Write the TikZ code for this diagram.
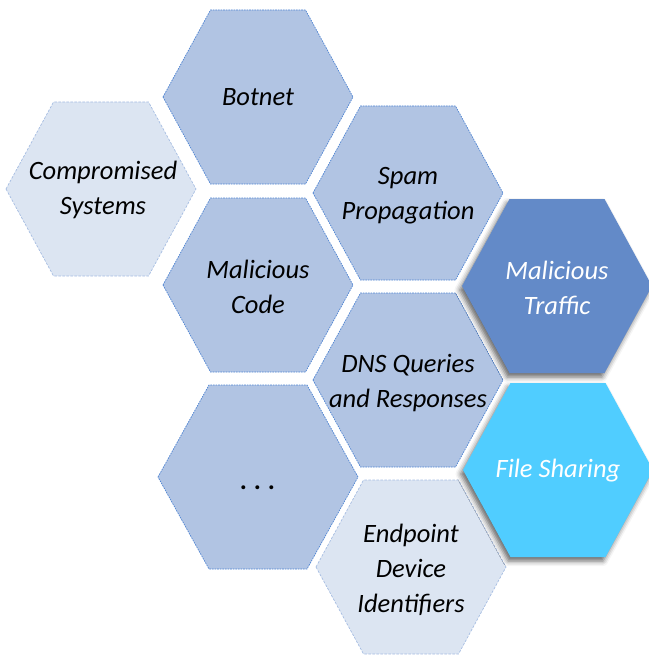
\documentclass[tikz,border=0pt]{standalone}
\usepackage{fontspec}
\setmainfont{Carlito}
\usetikzlibrary{shadows.blur}

\definecolor{midfill}{HTML}{B1C4E3}
\definecolor{midline}{HTML}{4F84D2}
\definecolor{lightfill}{HTML}{DCE5F2}
\definecolor{lightline}{HTML}{A6BDE2}
\definecolor{trafficfill}{HTML}{638AC8}
\definecolor{sharefill}{HTML}{50CDFF}

\tikzset{
  hexshape/.pic={\path[pic actions] (-95,0) -- (-47.5,-87) -- (47.5,-87) -- (95,0) -- (47.5,87) -- (-47.5,87) -- cycle;},
  bighexshape/.pic={\path[pic actions] (-100,0) -- (-49,-92) -- (49,-92) -- (100,0) -- (49,92) -- (-49,92) -- cycle;},
  midhex/.style={fill=midfill, draw=midline, line width=0.7pt, dash pattern=on 1.6pt off 1pt},
  lighthex/.style={fill=lightfill, draw=lightline, line width=0.7pt, dash pattern=on 2.5pt off 1.5pt},
  darkhex/.style={blur shadow={shadow xshift=-2.5pt, shadow yshift=-4pt, shadow blur radius=5pt, shadow opacity=60}},
  hextext/.style={font=\itshape\fontsize{26.5}{35}\selectfont, align=center, text=black, inner sep=0pt},
}

\begin{document}
\begin{tikzpicture}[x=1pt, y=-1pt]
  \useasboundingbox (0,0) rectangle (648,655);

  % light honeycomb cells
  \pic[lighthex] at (101,189) {hexshape};
  \pic[lighthex] at (411,567) {hexshape};

  % medium honeycomb cells
  \pic[midhex] at (258,97) {hexshape};
  \pic[midhex] at (408,193) {hexshape};
  \pic[midhex] at (258,285) {hexshape};
  \pic[midhex] at (408,380) {hexshape};
  \pic[midhex] at (258,477) {bighexshape};

  % highlighted cells with shadows
  \path[darkhex, fill=trafficfill, shift={(557,286)}]
    (-95,0) -- (-47.5,-87) -- (47.5,-87) -- (95,0) -- (47.5,87) -- (-47.5,87) -- cycle;
  \path[darkhex, fill=sharefill, shift={(558,470)}]
    (-95,0) -- (-47.5,-87) -- (47.5,-87) -- (95,0) -- (47.5,87) -- (-47.5,87) -- cycle;

  % cell labels
  \node[hextext] (botnet) at (258,97) {Botnet};
  \node[hextext] (compromised) at (103,190) {Compromised\\Systems};
  \node[hextext] (spam) at (408,196) {Spam\\Propagation};
  \node[hextext] (code) at (258,287) {Malicious\\Code};
  \node[hextext] (dns) at (408,383) {DNS Queries\\and Responses};
  \node[hextext, anchor=base] (more) at (258,489) {\textbf{.\hspace{0.26em}.\hspace{0.26em}.}};
  \node[hextext] (endpoint) at (411,570) {Endpoint\\Device\\Identifiers};
  \node[hextext, text=white] (traffic) at (557,288) {Malicious\\Traffic};
  \node[hextext, text=white] (sharing) at (558,471) {File Sharing};
\end{tikzpicture}
\end{document}
